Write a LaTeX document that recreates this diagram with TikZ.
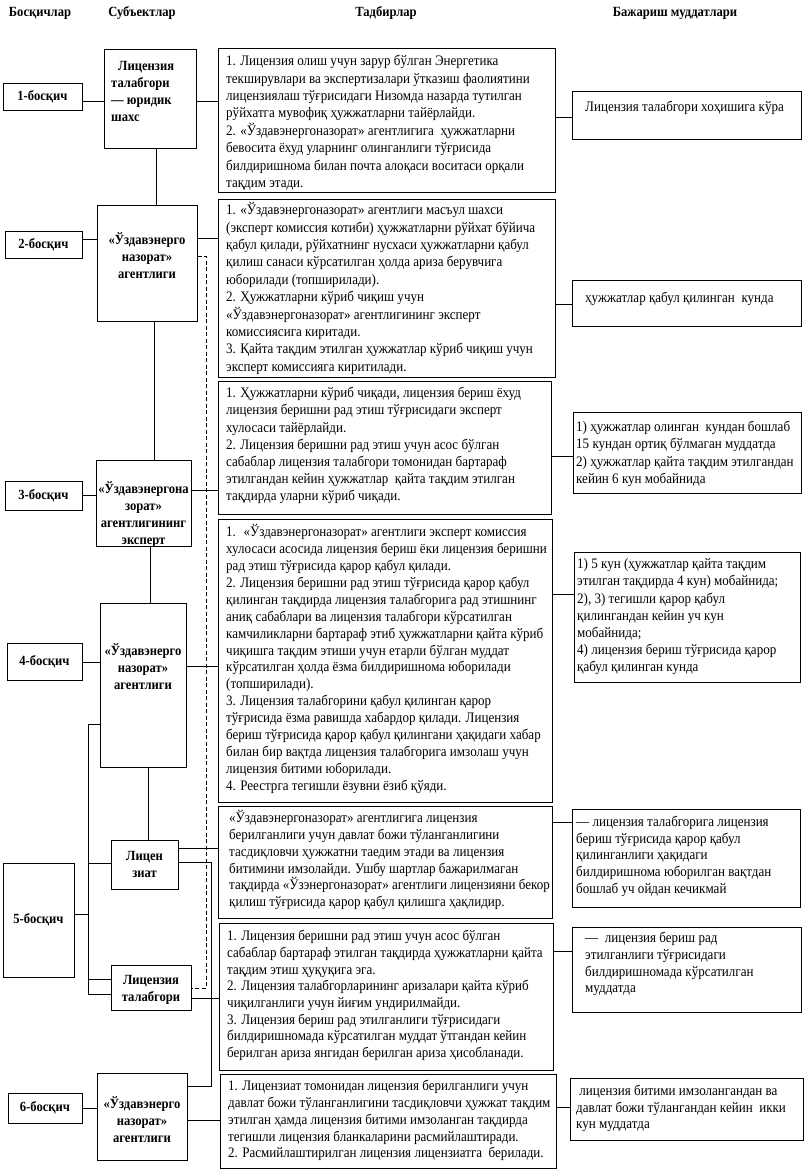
\documentclass[tikz,border=0pt]{standalone}
\usepackage{fontspec}
\setmainfont{Liberation Serif}[FakeStretch=0.9]
\usetikzlibrary{fit}
\newcommand\bx[5]{\node[bx, fit={(#2,#3)(#4,#5)}] (#1) {};}
\newcommand\tb[5]{\node[tx, font=\fontsize{14.5}{#3}\selectfont] (#4) at (#1,#2-9.5) {\rule{0pt}{14pt}#5};}
\begin{document}
\begin{tikzpicture}[x=1pt,y=-1pt,
  bx/.style={draw, line width=1pt, inner sep=0pt},
  ln/.style={line width=1pt},
  dl/.style={line width=1pt, dash pattern=on 4pt off 2.5pt},
  tx/.style={inner sep=0pt, anchor=north west, align=left},
  bt/.style={inner sep=0pt, align=center, font=\bfseries\fontsize{14}{17}\selectfont},
  hd/.style={inner sep=0pt, font=\bfseries\fontsize{14}{17}\selectfont}]
\useasboundingbox (0,0) rectangle (806,1172);
% headers
\node[hd] (h1) at (40,13) {Босқичлар};
\node[hd] (h2) at (142,13) {Субъектлар};
\node[hd] (h3) at (386,13) {Тадбирлар};
\node[hd] (h4) at (675,13) {Бажариш муддатлари};
% boxes
\bx{st1}{3}{83}{82}{110}
\bx{s1}{104}{50}{196}{148}
\bx{a1}{218}{49}{555}{192}
\bx{d1}{572}{91}{801}{139}
\bx{st2}{5}{231}{82}{258}
\bx{s2}{97}{205}{197}{321}
\bx{a2}{218}{199}{555}{377}
\bx{d2}{572}{280}{801}{326}
\bx{st3}{5}{481}{82}{510}
\bx{s3}{96}{460}{191}{546}
\bx{a3}{218}{381}{551}{514}
\bx{d3}{573}{412}{801}{493}
\bx{st4}{7}{643}{82}{680}
\bx{s4}{100}{603}{186}{767}
\bx{a4}{218}{519}{552}{802}
\bx{d4}{574}{552}{800}{682}
\bx{st5}{3}{863}{74}{977}
\bx{li}{111}{840}{178}{889}
\bx{lt}{111}{965}{191}{1010}
\bx{a5}{218}{806}{552}{918}
\bx{d5}{572}{809}{800}{907}
\bx{a6}{219}{923}{553}{1070}
\bx{d6}{572}{927}{801}{1012}
\bx{st6}{8}{1093}{82}{1123}
\bx{s6}{97}{1073}{187}{1160}
\bx{a7}{220}{1074}{556}{1168}
\bx{d7}{570}{1078}{803}{1140}
% stage texts
\node[bt] at (st1) {1-босқич};
\node[bt] at (st2) {2-босқич};
\node[bt] at (st3) {3-босқич};
\node[bt] at (st4) {4-босқич};
\node[bt] at (st5) {5-босқич};
\node[bt] at (st6) {6-босқич};
% subject texts
\node[bt, align=left, anchor=west] at (111,91) {\hspace{7pt}Лицензия\\талабгори\\— юридик\\шахс};
\node[bt] at (147,256) {«Ўздавэнерго\\назорат»\\агентлиги};
\node[bt] at (143.5,515) {«Ўздавэнергона\\зорат»\\агентлигининг\\эксперт};
\node[bt] at (143,667) {«Ўздавэнерго\\назорат»\\агентлиги};
\node[bt] at (144.5,864.5) {Лицен\\зиат};
\node[bt] at (151,990) {Лицензия\\талабгори};
\node[bt] at (142,1120) {«Ўздавэнерго\\назорат»\\агентлиги};
% action texts
\tb{226}{61}{17.4}{ta1}{1. Лицензия олиш учун зарур бўлган Энергетика\\текширувлари ва экспертизалари ўтказиш фаолиятини\\лицензиялаш тўғрисидаги Низомда назарда тутилган\\рўйхатга мувофиқ ҳужжатларни тайёрлайди.\\2. «Ўздавэнергоназорат» агентлигига \ ҳужжатларни\\бевосита ёхуд уларнинг олинганлиги тўғрисида\\билдиришнома билан почта алоқаси воситаси орқали\\тақдим этади.}
\tb{226}{210}{17.4}{ta2}{1. «Ўздавэнергоназорат» агентлиги масъул шахси\\(эксперт комиссия котиби) ҳужжатларни рўйхат бўйича\\қабул қилади, рўйхатнинг нусхаси ҳужжатларни қабул\\қилиш санаси кўрсатилган ҳолда ариза берувчига\\юборилади (топширилади).\\2. Ҳужжатларни кўриб чиқиш учун\\«Ўздавэнергоназорат» агентлигининг эксперт\\комиссиясига киритади.\\3. Қайта тақдим этилган ҳужжатлар кўриб чиқиш учун\\эксперт комиссияга киритилади.}
\tb{226}{393}{17.2}{ta3}{1. Ҳужжатларни кўриб чиқади, лицензия бериш ёхуд\\лицензия беришни рад этиш тўғрисидаги эксперт\\хулосаси тайёрлайди.\\2. Лицензия беришни рад этиш учун асос бўлган\\сабаблар лицензия талабгори томонидан бартараф\\этилгандан кейин ҳужжатлар \ қайта тақдим этилган\\тақдирда уларни кўриб чиқади.}
\tb{226}{532}{16.9}{ta4}{1. \ «Ўздавэнергоназорат» агентлиги эксперт комиссия\\хулосаси асосида лицензия бериш ёки лицензия беришни\\рад этиш тўғрисида қарор қабул қилади.\\2. Лицензия беришни рад этиш тўғрисида қарор қабул\\қилинган тақдирда лицензия талабгорига рад этишнинг\\аниқ сабаблари ва лицензия талабгори кўрсатилган\\камчиликларни бартараф этиб ҳужжатларни қайта кўриб\\чиқишга тақдим этиши учун етарли бўлган муддат\\кўрсатилган ҳолда ёзма билдиришнома юборилади\\(топширилади).\\3. Лицензия талабгорини қабул қилинган қарор\\тўғрисида ёзма равишда хабардор қилади. Лицензия\\бериш тўғрисида қарор қабул қилингани ҳақидаги хабар\\билан бир вақтда лицензия талабгорига имзолаш учун\\лицензия битими юборилади.\\4. Реестрга тегишли ёзувни ёзиб қўяди.}
\tb{229}{818}{16.8}{ta5}{«Ўздавэнергоназорат» агентлигига лицензия\\берилганлиги учун давлат божи тўланганлигини\\тасдиқловчи ҳужжатни таедим этади ва лицензия\\битимини имзолайди. Ушбу шартлар бажарилмаган\\тақдирда «Ўзэнергоназорат» агентлиги лицензияни бекор\\қилиш тўғрисида қарор қабул қилишга ҳақлидир.}
\tb{227}{936}{16.7}{ta6}{1. Лицензия беришни рад этиш учун асос бўлган\\сабаблар бартараф этилган тақдирда ҳужжатларни қайта\\тақдим этиш ҳуқуқига эга.\\2. Лицензия талабгорларининг аризалари қайта кўриб\\чиқилганлиги учун йиғим ундирилмайди.\\3. Лицензия бериш рад этилганлиги тўғрисидаги\\билдиришномада кўрсатилган муддат ўтгандан кейин\\берилган ариза янгидан берилган ариза ҳисобланади.}
\tb{228}{1086}{16.8}{ta7}{1. Лицензиат томонидан лицензия берилганлиги учун\\давлат божи тўланганлигини тасдиқловчи ҳужжат тақдим\\этилган ҳамда лицензия битими имзоланган тақдирда\\тегишли лицензия бланкаларини расмийлаштиради.\\2. Расмийлаштирилган лицензия лицензиатга \ берилади.}
% deadline texts
\tb{585}{107}{17}{td1}{Лицензия талабгори хоҳишига кўра}
\tb{585}{298}{17}{td2}{ҳужжатлар қабул қилинган \ кунда}
\tb{576}{427}{17.2}{td3}{1) ҳужжатлар олинган \ кундан бошлаб\\15 кундан ортиқ бўлмаган муддатда\\2) ҳужжатлар қайта тақдим этилгандан\\кейин 6 кун мобайнида}
\tb{577}{564}{17.2}{td4}{1) 5 кун (ҳужжатлар қайта тақдим\\этилган тақдирда 4 кун) мобайнида;\\2), 3) тегишли қарор қабул\\қилингандан кейин уч кун\\мобайнида;\\4) лицензия бериш тўғрисида қарор\\қабул қилинган кунда}
\tb{576}{822}{16.6}{td5}{— лицензия талабгорига лицензия\\бериш тўғрисида қарор қабул\\қилинганлиги ҳақидаги\\билдиришнома юборилган вақтдан\\бошлаб уч ойдан кечикмай}
\tb{585}{938}{16.7}{td6}{— \ лицензия бериш рад\\этилганлиги тўғрисидаги\\билдиришномада кўрсатилган\\муддатда}
\tb{576}{1091}{16.5}{td7}{\ лицензия битими имзолангандан ва\\давлат божи тўлангандан кейин \ икки\\кун муддатда}
% connectors row 1
\draw[ln] (st1.east |- 0,101) -- (s1.west |- 0,101);
\draw[ln] (s1.east |- 0,101) -- (a1.west |- 0,101);
\draw[ln] (a1.east |- 0,117) -- (d1.west |- 0,117);
\draw[ln] (s1.south -| 156,0) -- (s2.north -| 156,0);
% row 2
\draw[ln] (st2.east |- 0,239) -- (s2.west |- 0,239);
\draw[ln] (s2.east |- 0,238) -- (a2.west |- 0,238);
\draw[ln] (a2.east |- 0,304) -- (d2.west |- 0,304);
\draw[ln] (s2.south -| 154,0) -- (s3.north -| 154,0);
% row 3
\draw[ln] (st3.east |- 0,495) -- (s3.west |- 0,495);
\draw[ln] (s3.east |- 0,490) -- (a3.west |- 0,490);
\draw[ln] (a3.east |- 0,456) -- (d3.west |- 0,456);
\draw[ln] (s3.south -| 150,0) -- (s4.north -| 150,0);
% row 4
\draw[ln] (st4.east |- 0,662) -- (s4.west |- 0,662);
\draw[ln] (s4.east |- 0,666) -- (a4.west |- 0,666);
\draw[ln] (a4.east |- 0,594) -- (d4.west |- 0,594);
\draw[ln] (s4.south -| 148,0) -- (li.north -| 148,0);
% row 5
\coordinate (bA) at (88,724);
\coordinate (bB) at (88,994);
\coordinate (b1) at (88,863);
\coordinate (b2) at (88,979);
\coordinate (b3) at (88,914);
\draw[ln] (s4.west |- bA) -- (bA) -- (bB) -- (lt.west |- bB);
\draw[ln] (b1) -- (li.west |- b1);
\draw[ln] (b2) -- (lt.west |- b2);
\draw[ln] (st5.east |- b3) -- (b3);
\draw[ln] (li.east |- 0,848) -- (a5.west |- 0,848);
\draw[ln] (lt.east |- 0,998) -- (a6.west |- 0,998);
\draw[ln] (a5.east |- 0,822) -- (d5.west |- 0,822);
\draw[ln] (a6.east |- 0,951) -- (d6.west |- 0,951);
\coordinate (vA) at (211,862);
\coordinate (vB) at (211,1086);
\draw[ln] (li.east |- vA) -- (vA) -- (vB) -- (s6.east |- vB);
\coordinate (dA) at (206,256);
\coordinate (dB) at (206,988);
\draw[dl] (s2.east |- dA) -- (dA) -- (dB) -- (lt.east |- dB);
% row 6
\draw[ln] (st6.east |- 0,1108) -- (s6.west |- 0,1108);
\draw[ln] (s6.east |- 0,1120) -- (a7.west |- 0,1120);
\draw[ln] (a7.east |- 0,1107) -- (d7.west |- 0,1107);
\end{tikzpicture}
\end{document}
